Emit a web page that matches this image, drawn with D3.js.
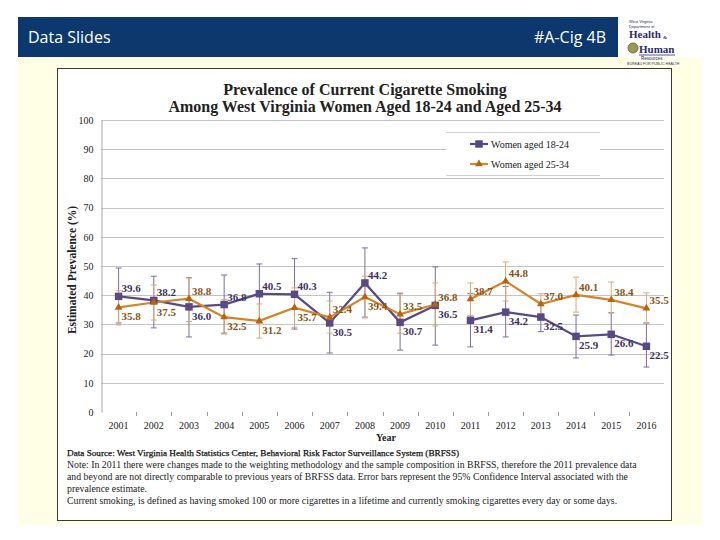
<!DOCTYPE html>
<html>
<head>
<meta charset="utf-8">
<script src="https://cdn.jsdelivr.net/npm/d3@7"></script>
<style>
  body { margin: 0; background: #fff; }
  svg { display: block; }
</style>
</head>
<body>
<div id="chart"></div>
<script>
(function () {

  /**
   * Data
   */
  const years = [2001, 2002, 2003, 2004, 2005, 2006, 2007, 2008,
                 2009, 2010, 2011, 2012, 2013, 2014, 2015, 2016];
  const women1824 = [39.6, 38.2, 36.0, 36.8, 40.5, 40.3, 30.5, 44.2,
                     30.7, 36.5, 31.4, 34.2, 32.5, 25.9, 26.6, 22.5];
  const women2534 = [35.8, 37.5, 38.8, 32.5, 31.2, 35.7, 32.4, 39.4,
                     33.5, 36.8, 38.7, 44.8, 37.0, 40.1, 38.4, 35.5];
  // 95% confidence intervals
  const low1824  = [30.5, 28.8, 25.7, 27.0, 30.5, 28.4, 20.2, 32.5,
                    21.2, 22.9, 22.3, 25.7, 27.5, 18.5, 19.5, 15.4];
  const high1824 = [49.3, 46.5, 46.0, 46.9, 50.7, 52.5, 41.0, 56.2,
                    40.5, 49.7, 40.5, 43.0, 37.5, 33.2, 34.0, 30.5];
  const low2534  = [29.8, 31.5, 31.0, 26.7, 25.3, 29.0, 27.0, 32.2,
                    27.0, 29.5, 33.0, 38.0, 33.5, 34.2, 33.9, 30.3];
  const high2534 = [41.5, 43.5, 45.9, 38.5, 37.0, 42.5, 38.0, 46.5,
                    40.8, 44.2, 44.2, 51.4, 40.5, 46.2, 44.5, 40.8];
  const yTicks = [0, 10, 20, 30, 40, 50, 60, 70, 80, 90, 100];
  const breakYear = 2011; // methodology change, lines are not joined

  const seriesNames = ["Women aged 18-24", "Women aged 25-34"];

  const series = [
    {name: seriesNames[0], values: women1824, low: low1824, high: high1824,
     line: "#574a85", bar: "#7a6ea3", text: "#3d3263", marker: "square"},
    {name: seriesNames[1], values: women2534, low: low2534, high: high2534,
     line: "#d6842c", bar: "#ddaa72", text: "#8a5414", marker: "triangle"}
  ];

  const width = 720;
  const height = 540;
  const serif = "'Liberation Serif', 'Times New Roman', serif";

  const svg = d3.select("#chart").append("svg")
    .attr("width", width)
    .attr("height", height);

  /**
   * Slide frame
   */
  svg.append("rect")
    .attr("x", 18).attr("y", 58)
    .attr("width", 684).attr("height", 467)
    .attr("fill", "#ffffe6");

  svg.append("rect")
    .attr("x", 18).attr("y", 17)
    .attr("width", 600).attr("height", 40)
    .attr("fill", "#0c386d");

  svg.append("text")
    .attr("x", 28).attr("y", 43)
    .attr("fill", "#fff")
    .style("font", "16px 'Open Sans', sans-serif")
    .text("Data Slides");

  svg.append("text")
    .attr("x", 606).attr("y", 43)
    .attr("text-anchor", "end")
    .attr("fill", "#fff")
    .style("font", "16px 'Open Sans', sans-serif")
    .text("#A-Cig 4B");

  // logo (rough)
  const logo = svg.append("g").attr("fill", "#2b2a6e");
  logo.append("text").attr("x", 629).attr("y", 23)
    .style("font", "4px 'Liberation Sans', sans-serif").text("West Virginia");
  logo.append("text").attr("x", 629).attr("y", 28)
    .style("font", "4px 'Liberation Sans', sans-serif").text("Department of");
  logo.append("text").attr("x", 629).attr("y", 38)
    .style("font", "bold 11px " + serif).text("Health");
  logo.append("text").attr("x", 663).attr("y", 39)
    .style("font", "bold 5px " + serif).text("&");
  logo.append("circle").attr("cx", 633).attr("cy", 48).attr("r", 5)
    .attr("fill", "#9a9a58").attr("stroke", "#5d5d30").attr("stroke-width", 0.8);
  logo.append("text").attr("x", 639).attr("y", 53)
    .style("font", "bold 11px " + serif).text("Human");
  logo.append("line").attr("x1", 639).attr("x2", 675).attr("y1", 55).attr("y2", 55)
    .attr("stroke", "#2b2a6e").attr("stroke-width", 0.8);
  logo.append("text").attr("x", 641).attr("y", 60)
    .style("font", "4.5px 'Liberation Sans', sans-serif").text("Resources");
  logo.append("text").attr("x", 627).attr("y", 65)
    .style("font", "3.6px 'Liberation Sans', sans-serif").text("BUREAU FOR PUBLIC HEALTH");

  // chart box
  svg.append("rect")
    .attr("x", 57.5).attr("y", 68.5)
    .attr("width", 614).attr("height", 452)
    .attr("fill", "#fff")
    .attr("stroke", "#3a3a30")
    .attr("stroke-width", 1);

  /**
   * Scales
   */
  const x = d3.scaleBand()
    .domain(years)
    .range([101, 664]);

  const y = d3.scaleLinear()
    .domain([0, 100])
    .range([412, 120]);

  const cx = d => x(d) + x.bandwidth() / 2;

  // gridlines
  svg.append("g")
    .selectAll("line")
    .data(yTicks.filter(t => t > 0))
    .enter().append("line")
    .attr("x1", 101).attr("x2", 664)
    .attr("y1", d => Math.round(y(d)) + 0.5)
    .attr("y2", d => Math.round(y(d)) + 0.5)
    .attr("stroke", "#c4c4c4")
    .attr("stroke-width", 1);

  // y axis
  const yAxis = svg.append("g")
    .attr("transform", "translate(101.5,0)")
    .call(d3.axisLeft(y).tickValues(yTicks).tickSize(0).tickPadding(8));
  yAxis.select(".domain").attr("stroke", "#a8a8a8");
  yAxis.selectAll("text")
    .style("font", "10px " + serif)
    .attr("fill", "#222");

  // x ticks at band edges
  const edges = years.map(d => x(d)).concat([x.range()[1]]);
  svg.append("g")
    .selectAll("line")
    .data(edges.slice(1, -1))
    .enter().append("line")
    .attr("x1", d => Math.round(d) + 0.5)
    .attr("x2", d => Math.round(d) + 0.5)
    .attr("y1", 412).attr("y2", 416)
    .attr("stroke", "#9a9a9a");

  svg.append("g")
    .selectAll("text")
    .data(years)
    .enter().append("text")
    .attr("x", d => cx(d))
    .attr("y", 429)
    .attr("text-anchor", "middle")
    .style("font", "10px " + serif)
    .attr("fill", "#222")
    .text(d => d);

  svg.append("text")
    .attr("x", 386).attr("y", 441)
    .attr("text-anchor", "middle")
    .style("font", "bold 10px " + serif)
    .attr("fill", "#222")
    .text("Year");

  svg.append("text")
    .attr("transform", "translate(76,270) rotate(-90)")
    .attr("text-anchor", "middle")
    .style("font", "bold 11.5px " + serif)
    .attr("fill", "#222")
    .text("Estimated Prevalence (%)");

  // title
  svg.append("text")
    .attr("x", 365).attr("y", 95)
    .attr("text-anchor", "middle")
    .style("font", "bold 16px " + serif)
    .attr("fill", "#222")
    .text("Prevalence of Current Cigarette Smoking");
  svg.append("text")
    .attr("x", 365).attr("y", 112)
    .attr("text-anchor", "middle")
    .style("font", "bold 16px " + serif)
    .attr("fill", "#222")
    .text("Among West Virginia Women Aged 18-24 and Aged 25-34");

  /**
   * Error bars, lines, markers
   */
  const line = d3.line()
    .x(d => cx(d.year))
    .y(d => y(d.value));

  series.forEach(s => {
    const pts = years.map((yr, i) => ({year: yr, value: s.values[i], low: s.low[i], high: s.high[i]}));
    const g = svg.append("g");

    // error bars
    const eb = g.selectAll(".eb").data(pts).enter().append("g");
    eb.append("line")
      .attr("x1", d => cx(d.year)).attr("x2", d => cx(d.year))
      .attr("y1", d => y(d.low)).attr("y2", d => y(d.high))
      .attr("stroke", s.bar).attr("stroke-width", 1);
    eb.selectAll(".cap")
      .data(d => [d.low, d.high].map(v => ({year: d.year, v: v})))
      .enter().append("line")
      .attr("x1", d => cx(d.year) - 3).attr("x2", d => cx(d.year) + 3)
      .attr("y1", d => y(d.v)).attr("y2", d => y(d.v))
      .attr("stroke", s.bar).attr("stroke-width", 1);
  });

  series.forEach(s => {
    const pts = years.map((yr, i) => ({year: yr, value: s.values[i]}));
    const segments = [pts.filter(d => d.year < breakYear), pts.filter(d => d.year >= breakYear)];
    svg.append("g")
      .selectAll("path")
      .data(segments)
      .enter().append("path")
      .attr("d", line)
      .attr("fill", "none")
      .attr("stroke", s.line)
      .attr("stroke-width", 2.2);
  });

  const symSquare = d3.symbol().type(d3.symbolSquare).size(56);
  const symTriangle = d3.symbol().type(d3.symbolTriangle).size(26);

  series.forEach((s, si) => {
    const other = series[1 - si];
    const pts = years.map((yr, i) => ({year: yr, value: s.values[i], higher: s.values[i] >= other.values[i]}));
    svg.append("g")
      .selectAll("path")
      .data(pts)
      .enter().append("path")
      .attr("transform", d => "translate(" + cx(d.year) + "," + y(d.value) + ")")
      .attr("d", s.marker === "square" ? symSquare : symTriangle)
      .attr("fill", s.marker === "square" ? "#574a85" : "#b8640f");

    svg.append("g")
      .selectAll("text")
      .data(pts)
      .enter().append("text")
      .attr("x", d => cx(d.year) + 3)
      .attr("y", d => y(d.value) + (d.higher ? -4 : 13))
      .style("font", "bold 11px " + serif)
      .attr("fill", s.text)
      .text(d => d.value.toFixed(1));
  });

  /**
   * Legend
   */
  const legend = svg.append("g");
  legend.append("rect")
    .attr("x", 446).attr("y", 132)
    .attr("width", 154).attr("height", 44)
    .attr("fill", "#fff");
  legend.selectAll(".edge")
    .data([132.5, 175.5])
    .enter().append("line")
    .attr("x1", 446).attr("x2", 600)
    .attr("y1", d => d).attr("y2", d => d)
    .attr("stroke", "#d0d0d0");

  const item = legend.selectAll(".item")
    .data(series)
    .enter().append("g")
    .attr("transform", (d, i) => "translate(0," + (144 + i * 20) + ")");
  item.append("line")
    .attr("x1", 470).attr("x2", 488)
    .attr("y1", 0).attr("y2", 0)
    .attr("stroke", d => d.line)
    .attr("stroke-width", 2.2);
  item.append("path")
    .attr("transform", "translate(479,0)")
    .attr("d", d => d.marker === "square" ? symSquare() : symTriangle())
    .attr("fill", d => d.marker === "square" ? "#574a85" : "#b8640f");
  item.append("text")
    .attr("x", 491).attr("y", 3.5)
    .style("font", "10px " + serif)
    .attr("fill", "#222")
    .text(d => d.name);

  /**
   * Notes
   */
  const notes = [
    "Note: In 2011 there were changes made to the weighting methodology and the sample composition in BRFSS, therefore the 2011 prevalence data",
    "and beyond are not directly comparable to previous years of BRFSS data. Error bars represent the 95% Confidence Interval associated with the",
    "prevalence estimate.",
    "Current smoking, is defined as having smoked 100 or more cigarettes in a lifetime and currently smoking cigarettes every day or some days."
  ];

  svg.append("text")
    .attr("x", 67).attr("y", 456)
    .style("font", "9.2px " + serif)
    .attr("fill", "#111")
    .attr("stroke", "#111")
    .attr("stroke-width", 0.25)
    .text("Data Source: West Virginia Health Statistics Center, Behavioral Risk Factor Surveillance System (BRFSS)");

  svg.append("g")
    .selectAll("text")
    .data(notes)
    .enter().append("text")
    .attr("x", 67)
    .attr("y", (d, i) => 468 + i * 12)
    .style("font", "9.8px " + serif)
    .attr("fill", "#222")
    .text(d => d);

})();
</script>
</body>
</html>
